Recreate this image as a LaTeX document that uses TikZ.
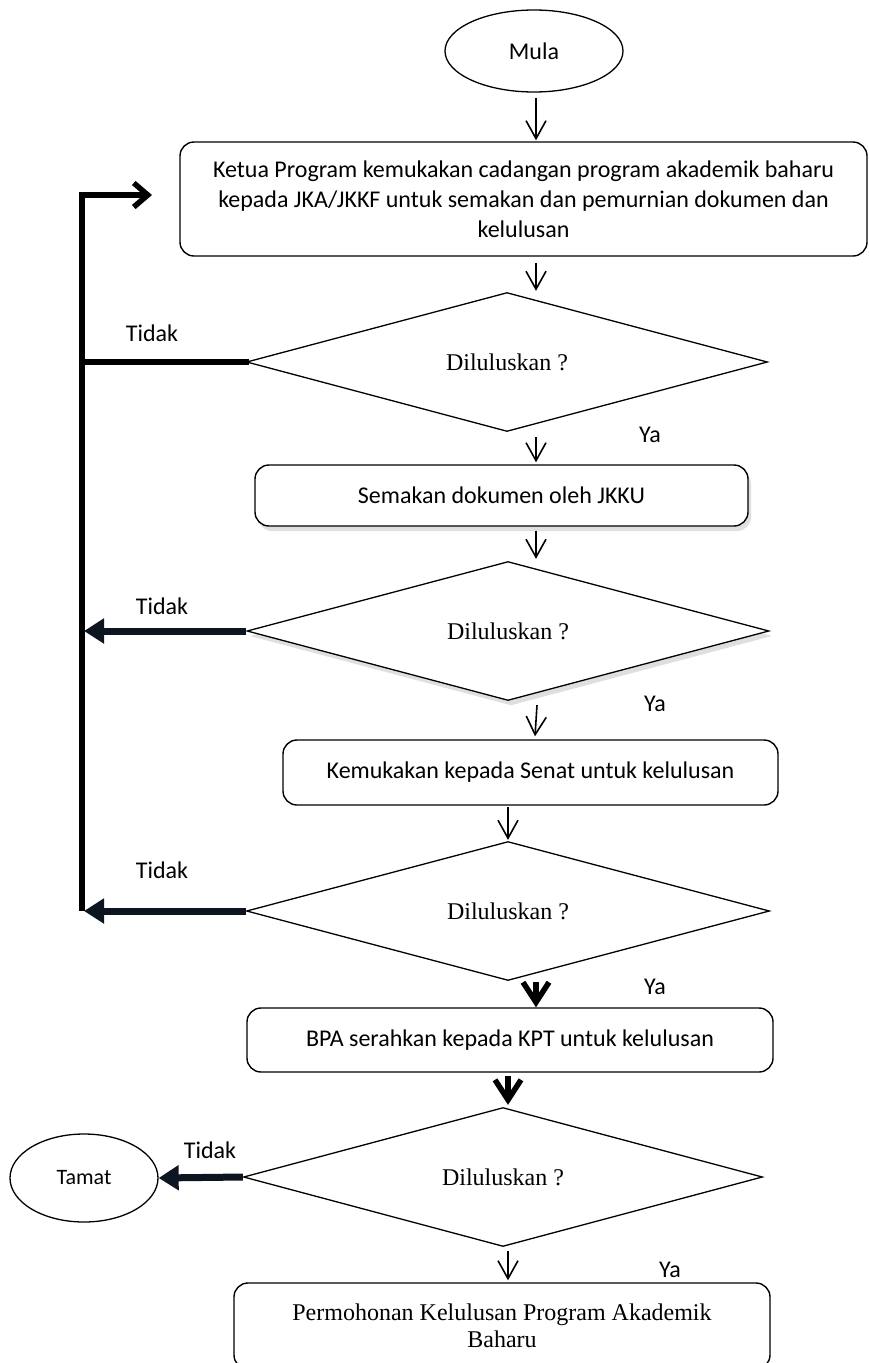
\documentclass[tikz,border=0pt]{standalone}
\usepackage{fontspec}
\setmainfont{Carlito}
\newfontfamily\serifc{Liberation Serif}
\usetikzlibrary{arrows.meta,shapes.geometric,shadows,calc}
\definecolor{navy}{HTML}{0D1620}
\begin{document}
\begin{tikzpicture}[x=1pt,y=-1pt,
  font=\fontsize{24}{30}\selectfont,
  box/.style={draw, rounded corners=14pt, line width=1.4pt, align=center, inner sep=0pt},
  dia/.style={draw, diamond, line width=1.3pt, inner sep=0pt, font=\serifc\fontsize{24}{30}\selectfont},
  oval/.style={draw, ellipse, line width=1.3pt, inner sep=0pt},
  shad/.style={drop shadow={opacity=0.25, shadow xshift=3pt, shadow yshift=-5pt}},
  arr/.style={line width=1.6pt, -{Straight Barb[length=18pt,width=20pt]}},
  tarr/.style={line width=5.5pt, -{Straight Barb[length=20pt,width=26pt]}},
  farr/.style={navy, line width=7pt, -{Triangle[length=20pt,width=24pt]}},
  loopline/.style={line width=5.5pt},
  lbl/.style={inner sep=0pt}
]
\clip (0,0) rectangle (869,1363);
\fill[white] (0,0) rectangle (869,1363);

% nodes
\node[oval, minimum width=178pt, minimum height=82pt] (mula) at (534,51) {Mula};
\node[box, minimum width=687pt, minimum height=114pt] (b1) at (523.5,199)
  {Ketua Program kemukakan cadangan program akademik baharu\\kepada JKA/JKKF untuk semakan dan pemurnian dokumen dan\\kelulusan};
\node[dia, minimum width=521pt, minimum height=114pt] (d1) at (507,362) {Diluluskan ?};
\node[box, shad, fill=white, minimum width=493pt, minimum height=61pt] (b2) at (501.5,495.5) {Semakan dokumen oleh JKKU};
\node[dia, shad, fill=white, minimum width=522pt, minimum height=115pt] (d2) at (508,631) {Diluluskan ?};
\node[box, minimum width=495pt, minimum height=65pt] (b3) at (530.5,772.5) {Kemukakan kepada Senat untuk kelulusan};
\node[dia, minimum width=523pt, minimum height=111pt] (d3) at (508,911) {Diluluskan ?};
\node[box, minimum width=526pt, minimum height=64pt] (b4) at (510,1040) {BPA serahkan kepada KPT untuk kelulusan};
\node[dia, minimum width=519pt, minimum height=112pt] (d4) at (503,1177) {Diluluskan ?};
\node[oval, minimum width=148pt, minimum height=88pt] (tamat) at (84,1178) {\fontsize{22}{26}\selectfont Tamat};
\node[box, minimum width=536pt, minimum height=86pt, font=\serifc\fontsize{24}{27}\selectfont] (b5) at (502,1326)
  {Permohonan Kelulusan Program Akademik\\Baharu};

% labels
\node[lbl] (t1) at (152,333) {Tidak};
\node[lbl] (t2) at (162,606) {Tidak};
\node[lbl] (t3) at (162,870) {Tidak};
\node[lbl] (t4) at (210,1150) {Tidak};
\node[lbl] (y1) at (650,435) {Ya};
\node[lbl] (y2) at (655,704) {Ya};
\node[lbl] (y3) at (655,987) {Ya};
\node[lbl] (y4) at (670,1270) {Ya};

% main flow connectors
\draw[arr] ($(mula.south)+(2,5)$) -- ($(b1.north)+(12.5,-1)$);
\draw[arr] ($(b1.south)+(12.5,6)$) -- ($(d1.north)+(29,-1)$);
\draw[arr] ($(d1.south)+(29,5)$) -- ($(b2.north)+(34.5,-2)$);
\draw[arr] ($(b2.south)+(34.5,4)$) -- ($(d2.north)+(28,-2)$);
\draw[arr] ($(d2.south)+(29,4)$) -- ($(b3.north)+(4.5,-3)$);
\draw[arr] ($(b3.south)+(-22.5,1)$) -- ($(d3.north)+(0,-1)$);
\draw[tarr] ($(d3.south)+(28,1)$) -- ($(b4.north)+(26,0)$);
\draw[tarr] ($(b4.south)+(-2,3)$) -- ($(d4.north)+(5,-2)$);
\draw[arr] ($(d4.south)+(5,4)$) -- ($(b5.north)+(6,-2)$);

% loop back
\coordinate (lx) at (82,0);
\coordinate (loopEnd) at (152,195);
\draw[loopline, line cap=rect] (d1.west) -- (d1.west -| lx);
\draw[loopline, line join=miter, -{Straight Barb[length=14pt,width=24pt]}]
  (d3.west -| lx) -- (lx |- loopEnd) -- (loopEnd);
\draw[farr] (d2.west) -- ($(d2.west -| lx)+(2,0)$);
\draw[farr] (d3.west) -- ($(d3.west -| lx)+(2,0)$);
\draw[farr] (d4.west) -- (tamat.east);
\end{tikzpicture}
\end{document}
